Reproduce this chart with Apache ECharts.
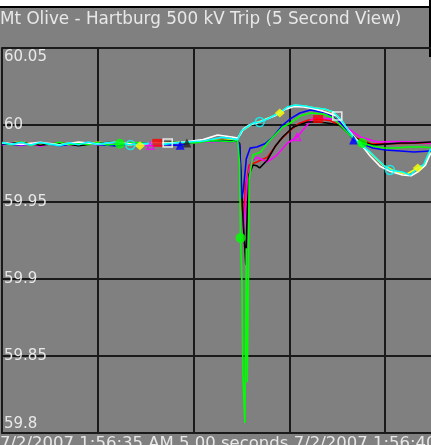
<!DOCTYPE html>
<html>
<head>
<meta charset="utf-8">
<script src="https://cdn.jsdelivr.net/npm/echarts@6/dist/echarts.min.js"></script>
<style>
  html, body { margin: 0; padding: 0; background: #808080; overflow: hidden; }
  #chart { width: 431px; height: 445px; }
</style>
</head>
<body>
<div id="chart"></div>
<script>
// Frequency traces (Hz) against seconds into the 5 second window.
const titleText = 'Mt Olive - Hartburg 500 kV Trip (5 Second View)';
const footerText = '7/2/2007 1:56:35 AM 5.00 seconds 7/2/2007 1:56:40 AM';
const yTicks = [59.8, 59.85, 59.9, 59.95, 60, 60.05];
const xTicks = [0, 1, 2, 3, 4, 5];

const redT = [0,0.2,0.4,0.6,0.8,1.0,1.2,1.4,1.62,1.8,2.0,2.2,2.4,2.46,2.48,2.50,2.52,2.54,2.58,2.66,2.77,2.90,3.00,3.10,3.20,3.30,3.42,3.55,3.70,3.85,4.00,4.20,4.47,4.75,5.0];
const redV = [59.9880,59.9872,59.9884,59.9870,59.9886,59.9874,59.9882,59.9872,59.9884,59.9880,59.9890,59.9896,59.9895,59.9896,59.9860,59.9500,59.9400,59.9600,59.9740,59.9760,59.9790,59.9900,59.9960,60.0010,60.0032,60.0039,60.0030,59.9990,59.9915,59.9880,59.9878,59.9880,59.9885,59.9885,59.9885];
const redMarks = [1.62, 3.30];

const yellowT = [0,0.2,0.4,0.6,0.8,1.0,1.2,1.44,1.6,1.8,2.0,2.2,2.4,2.46,2.50,2.56,2.62,2.70,2.80,2.90,2.98,3.06,3.17,3.27,3.37,3.46,3.55,3.62,3.70,3.84,3.98,4.10,4.22,4.34,4.42,4.47,4.6,5.0];
const yellowV = [59.9880,59.9890,59.9870,59.9884,59.9872,59.9888,59.9876,59.9866,59.9882,59.9888,59.9892,59.9900,59.9905,59.9910,59.9958,59.9985,60.0010,60.0025,60.0050,60.0078,60.0115,60.0128,60.0122,60.0110,60.0102,60.0082,60.0024,59.9960,59.9894,59.9822,59.9738,59.9700,59.9680,59.9721,59.9745,59.9835,59.9890,59.9900];
const yellowMarks = [1.44, 2.90, 4.34];

const magentaT = [0,0.1,0.2,0.3,0.4,0.5,0.6,0.7,0.8,0.9,1.0,1.2,1.4,1.55,1.8,2.0,2.2,2.4,2.46,2.48,2.50,2.52,2.54,2.56,2.60,2.66,2.77,2.87,2.98,3.08,3.14,3.25,3.46,3.56,3.74,3.92,4.10,4.29,4.47,4.75,5.0];
const magentaV = [59.9870,59.9884,59.9866,59.9880,59.9862,59.9878,59.9884,59.9866,59.9876,59.9888,59.9872,59.9884,59.9870,59.9866,59.9884,59.9886,59.9892,59.9896,59.9894,59.9880,59.9600,59.9318,59.9450,59.9650,59.9760,59.9790,59.9760,59.9805,59.9883,59.9922,59.9968,60.0045,60.0039,60.0000,59.9922,59.9890,59.9893,59.9890,59.9883,59.9880,59.9880];
const magentaMarks = [1.55, 3.08];

const blackT = [0,0.2,0.4,0.6,0.8,1.0,1.2,1.4,1.6,1.8,1.93,2.1,2.3,2.45,2.48,2.50,2.52,2.545,2.56,2.58,2.62,2.66,2.69,2.77,2.85,2.93,3.04,3.19,3.29,3.39,3.52,3.66,3.77,3.87,4.00,4.16,4.30,4.47,4.75,5.0];
const blackV = [59.9876,59.9888,59.9868,59.9884,59.9866,59.9882,59.9888,59.9870,59.9884,59.9890,59.9883,59.9894,59.9900,59.9896,59.9880,59.9600,59.9350,59.9091,59.9450,59.9680,59.9740,59.9735,59.9721,59.9773,59.9860,59.9922,59.9987,60.0019,60.0019,60.0013,60.0000,59.9922,59.9890,59.9870,59.9876,59.9883,59.9883,59.9890,59.9890,59.9890];
const blackMarks = [1.93];

const blueT = [0,0.2,0.4,0.6,0.8,1.0,1.2,1.4,1.6,1.86,2.0,2.2,2.4,2.46,2.48,2.49,2.50,2.52,2.55,2.59,2.66,2.75,2.83,2.93,3.02,3.11,3.22,3.39,3.53,3.67,3.87,4.00,4.16,4.30,4.47,4.75,5.0];
const blueV = [59.9878,59.9870,59.9886,59.9866,59.9882,59.9874,59.9864,59.9884,59.9876,59.9868,59.9890,59.9896,59.9893,59.9896,59.9870,59.9700,59.9520,59.9580,59.9780,59.9850,59.9857,59.9880,59.9922,60.0000,60.0045,60.0078,60.0097,60.0078,60.0019,59.9903,59.9851,59.9838,59.9831,59.9825,59.9831,59.9830,59.9830];
const blueMarks = [1.86, 3.67];

const greenT = [0,0.1,0.2,0.3,0.4,0.5,0.6,0.7,0.8,0.9,1.0,1.1,1.23,1.4,1.6,1.8,2.0,2.2,2.4,2.46,2.48,2.49,2.505,2.515,2.535,2.55,2.56,2.57,2.58,2.62,2.70,2.77,2.85,2.93,3.01,3.11,3.22,3.35,3.46,3.55,3.65,3.76,3.87,3.98,4.10,4.25,4.40,4.50,4.75,5.0];
const greenV = [59.9883,59.9872,59.9890,59.9868,59.9886,59.9874,59.9888,59.9870,59.9884,59.9872,59.9886,59.9870,59.9878,59.9886,59.9875,59.9888,59.9884,59.9898,59.9893,59.9900,59.9750,59.9266,59.8970,59.8380,59.8065,59.9200,59.8330,59.8850,59.9650,59.9805,59.9825,59.9883,59.9935,59.9987,60.0013,60.0058,60.0078,60.0071,60.0045,59.9987,59.9922,59.9883,59.9864,59.9851,59.9851,59.9857,59.9857,59.9851,59.9850,59.9850];
const greenMarks = [1.23, 2.49, 3.76];

const whiteT = [0,0.2,0.4,0.6,0.8,1.0,1.2,1.4,1.6,1.73,1.9,2.1,2.25,2.4,2.46,2.49,2.52,2.58,2.66,2.75,2.85,2.95,3.05,3.15,3.25,3.35,3.50,3.58,3.66,3.74,3.84,3.95,4.05,4.18,4.27,4.35,4.42,4.47,4.6,5.0];
const whiteV = [59.9885,59.9874,59.9888,59.9872,59.9890,59.9876,59.9890,59.9872,59.9884,59.9883,59.9890,59.9905,59.9935,59.9922,59.9915,59.9940,59.9975,60.0000,60.0013,60.0035,60.0060,60.0100,60.0120,60.0117,60.0105,60.0090,60.0058,59.9995,59.9935,59.9880,59.9800,59.9730,59.9700,59.9675,59.9670,59.9700,59.9740,59.9810,59.9880,59.9900];
const whiteMarks = [1.73, 3.50];

const cyanT = [0,0.1,0.2,0.3,0.4,0.5,0.6,0.7,0.8,0.9,1.0,1.1,1.2,1.34,1.5,1.7,1.9,2.1,2.3,2.46,2.48,2.50,2.56,2.62,2.69,2.77,2.85,2.90,2.98,3.06,3.17,3.27,3.37,3.46,3.55,3.62,3.70,3.84,3.98,4.05,4.18,4.26,4.34,4.40,4.47,4.55,5.0];
const cyanV = [59.9886,59.9874,59.9888,59.9870,59.9886,59.9876,59.9866,59.9884,59.9872,59.9890,59.9874,59.9884,59.9888,59.9870,59.9880,59.9876,59.9888,59.9896,59.9920,59.9905,59.9916,59.9961,59.9987,60.0013,60.0019,60.0039,60.0065,60.0078,60.0117,60.0130,60.0123,60.0110,60.0104,60.0084,60.0026,59.9961,59.9896,59.9825,59.9740,59.9708,59.9695,59.9675,59.9721,59.9740,59.9838,59.9890,59.9900];
const cyanMarks = [1.34, 2.69, 4.05];

const GRID = '#1a1a1a';
const TEXT = '#e8e8e8';
const FONT = 'DejaVu Sans';

function trace(times, values, color) {
  return {
    type: 'line',
    data: times.map((t, i) => [t, values[i]]),
    showSymbol: false,
    lineStyle: { color: color, width: 1.6 },
    itemStyle: { color: color },
    emphasis: { disabled: true },
    silent: true,
    z: 2
  };
}

function markers(times, values, marks, color, symbol, size, hollow) {
  return {
    type: 'scatter',
    data: marks.map(t => [t, values[times.indexOf(t)]]),
    symbol: symbol,
    symbolSize: size,
    itemStyle: hollow
      ? { color: 'rgba(0,0,0,0)', borderColor: color, borderWidth: 1.5 }
      : { color: color },
    emphasis: { disabled: true },
    silent: true,
    z: 4
  };
}

const series = [
  trace(redT, redV, '#ff0000'),
  trace(yellowT, yellowV, '#ffff00'),
  trace(magentaT, magentaV, '#ff00ff'),
  trace(blackT, blackV, '#000000'),
  trace(blueT, blueV, '#0000ff'),
  trace(greenT, greenV, '#00ff00'),
  trace(whiteT, whiteV, '#ffffff'),
  trace(cyanT, cyanV, '#00ffff'),
  markers(redT, redV, redMarks, '#ff0000', 'rect', [10, 8], false),
  markers(yellowT, yellowV, yellowMarks, '#ffff00', 'diamond', [10, 9], false),
  markers(magentaT, magentaV, magentaMarks, '#ff00ff', 'triangle', 7, true),
  markers(blackT, blackV, blackMarks, '#202020', 'triangle', 9, false),
  markers(blueT, blueV, blueMarks, '#0000ff', 'triangle', 9, false),
  markers(greenT, greenV, greenMarks, '#00ff00', 'circle', 10, false),
  markers(whiteT, whiteV, whiteMarks, '#ffffff', 'rect', [9, 8], true),
  markers(cyanT, cyanV, cyanMarks, '#00ffff', 'circle', 9, true)
];

const chart = echarts.init(document.getElementById('chart'), null, { renderer: 'canvas' });

chart.setOption({
  animation: false,
  backgroundColor: '#808080',
  title: {
    text: titleText,
    left: 0,
    top: 11,
    padding: 0,
    textStyle: { color: TEXT, fontFamily: FONT, fontSize: 16.8, fontWeight: 'normal' }
  },
  grid: { left: 2, top: 48, bottom: 12, right: -50, containLabel: false, outerBoundsMode: 'none' },
  xAxis: {
    type: 'value',
    min: xTicks[0],
    max: xTicks[xTicks.length - 1],
    interval: xTicks[1] - xTicks[0],
    axisLine: { show: true, onZero: false, lineStyle: { color: GRID, width: 2 } },
    axisTick: { show: false },
    axisLabel: { show: false },
    splitLine: { show: true, lineStyle: { color: GRID, width: 2 } }
  },
  yAxis: {
    type: 'value',
    min: yTicks[0],
    max: yTicks[yTicks.length - 1],
    interval: 0.05,
    axisLine: { show: true, onZero: false, lineStyle: { color: GRID, width: 2 } },
    axisTick: { show: false },
    splitLine: { show: true, lineStyle: { color: GRID, width: 2 } },
    axisLabel: {
      inside: true,
      margin: 2,
      color: TEXT,
      fontFamily: FONT,
      fontSize: 15,
      formatter: function (v) {
        const s = String(+v.toFixed(2));
        if (Math.abs(v - yTicks[yTicks.length - 1]) < 1e-6) return '{top|' + s + '}';
        if (Math.abs(v - yTicks[0]) < 1e-6) return '{bot|' + s + '}';
        return s;
      },
      rich: {
        top: { color: TEXT, fontFamily: FONT, fontSize: 15, padding: [18, 0, 0, 0] },
        bot: { color: TEXT, fontFamily: FONT, fontSize: 15, padding: [0, 0, 17, 0] }
      }
    }
  },
  graphic: [
    { type: 'rect', left: 0, top: 0, shape: { width: 431, height: 6 }, style: { fill: '#ffffff' }, silent: true },
    { type: 'rect', left: 0, top: 6, shape: { width: 431, height: 2 }, style: { fill: '#000000' }, silent: true },
    { type: 'rect', left: 429, top: 0, shape: { width: 2, height: 57 }, style: { fill: '#000000' }, silent: true },
    {
      type: 'text', left: 0, top: 435, silent: true,
      style: { text: footerText, fill: TEXT, font: '16.5px "DejaVu Sans"' }
    }
  ],
  series: series
});
</script>
</body>
</html>
